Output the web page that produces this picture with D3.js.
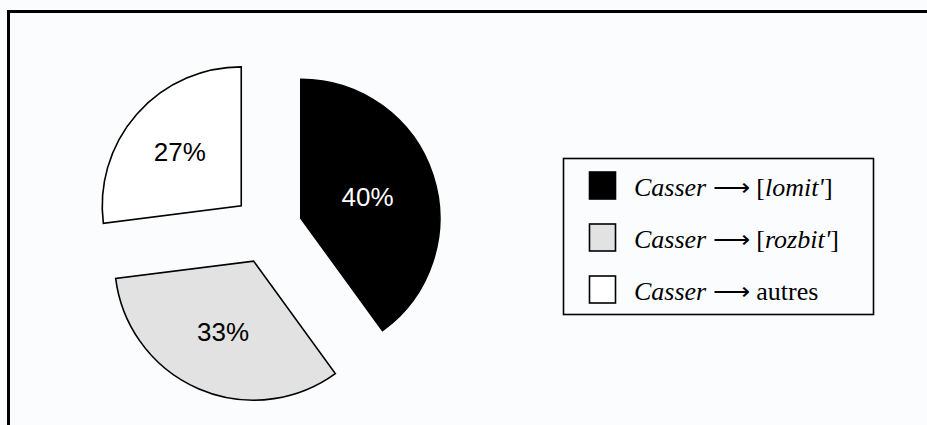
<!DOCTYPE html>
<html>
<head>
<meta charset="utf-8">
<script src="https://cdn.jsdelivr.net/npm/d3@7"></script>
<style>
  html, body { margin: 0; padding: 0; background: #fbfcfe; overflow: hidden; }
  svg { display: block; }
</style>
</head>
<body>
<svg id="chart" width="927" height="425"></svg>
<script>
// ---- data ----
const categories = ["lomit'", "rozbit'", "autres"];
const values = [40, 33, 27];
const percentLabels = ["40%", "33%", "27%"];
const legendVerb = "Casser";

// ---- styles ----
const fills = ["#000000", "#e1e2e1", "#ffffff"];
const labelColors = ["#ffffff", "#000000", "#000000"];

const svg = d3.select("#chart");
const W = 927, H = 425;

svg.append("rect").attr("width", W).attr("height", H).attr("fill", "#fbfcfe");

// frame (top and left edges only visible)
svg.append("path")
  .attr("d", `M8.5,${H} V11.5 H${W}`)
  .attr("fill", "none")
  .attr("stroke", "#000")
  .attr("stroke-width", 3);

// ---- pie ----
const cx = 267.5, cy = 229, R = 139, explode = 35;
const pie = d3.pie().sort(null).value(d => d).startAngle(0).endAngle(2 * Math.PI);
const arcs = pie(values);
const arcGen = d3.arc().innerRadius(0).outerRadius(R);

const g = svg.append("g").attr("transform", `translate(${cx},${cy})`);

const slice = g.selectAll("g.slice").data(arcs).enter().append("g")
  .attr("class", "slice")
  .attr("transform", d => {
    const mid = (d.startAngle + d.endAngle) / 2;
    return `translate(${explode * Math.sin(mid)},${-explode * Math.cos(mid)})`;
  });

slice.append("path")
  .attr("d", arcGen)
  .attr("fill", (d, i) => fills[i])
  .attr("stroke", "#000")
  .attr("stroke-width", 1.6)
  .attr("stroke-linejoin", "miter");

slice.append("text")
  .attr("transform", d => {
    const a = d.endAngle - d.startAngle;
    const mid = (d.startAngle + d.endAngle) / 2;
    const rc = 4 * R * Math.sin(a / 2) / (3 * a);
    return `translate(${rc * Math.sin(mid)},${-rc * Math.cos(mid)})`;
  })
  .attr("text-anchor", "middle")
  .attr("dy", "0.36em")
  .attr("font-family", "'Liberation Sans', Arial, sans-serif")
  .attr("font-size", 26)
  .attr("fill", (d, i) => labelColors[i])
  .text((d, i) => percentLabels[i]);

// ---- legend ----
const lx = 563.5, ly = 158.5, lw = 310, lh = 156;
svg.append("rect")
  .attr("x", lx).attr("y", ly).attr("width", lw).attr("height", lh)
  .attr("fill", "#fbfcfe").attr("stroke", "#000").attr("stroke-width", 1.6);

const legendY = d3.scalePoint().domain(categories).range([196, 300]);

const items = svg.selectAll("g.leg").data(categories).enter().append("g").attr("class", "leg");

items.append("rect")
  .attr("x", 589.5)
  .attr("y", d => legendY(d) - 24)
  .attr("width", 26).attr("height", 27)
  .attr("fill", (d, i) => fills[i])
  .attr("stroke", "#000").attr("stroke-width", 1.6);

const txt = items.append("text")
  .attr("x", 634)
  .attr("y", d => legendY(d))
  .attr("font-family", "'Liberation Serif', 'Times New Roman', serif")
  .attr("font-size", 26)
  .attr("fill", "#000");

txt.append("tspan").attr("font-style", "italic").text(legendVerb);
txt.append("tspan").text(" \u27F6 ");
txt.each(function (d, i) {
  const t = d3.select(this);
  if (d === "autres") {
    t.append("tspan").text(d);
  } else {
    t.append("tspan").text("[");
    t.append("tspan").attr("font-style", "italic").text(d);
    t.append("tspan").text("]");
  }
});
</script>
</body>
</html>
